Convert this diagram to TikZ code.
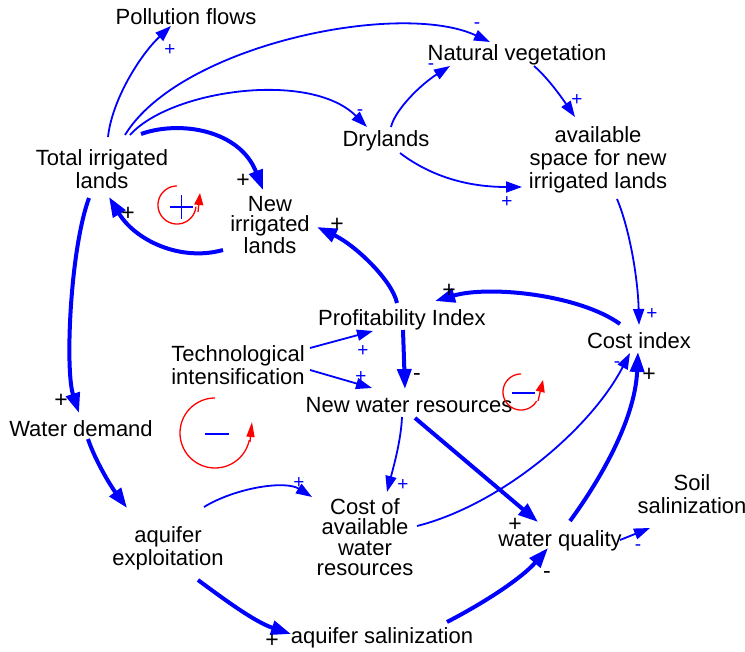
\documentclass[tikz,border=0pt]{standalone}
\usepackage{fontspec}
\setmainfont{Liberation Sans}
\usetikzlibrary{arrows.meta,calc}
\begin{document}
\begin{tikzpicture}[x=1pt,y=-1pt,
 lab/.style={font=\fontsize{22}{23}\selectfont, align=center, inner sep=0pt},
 labt/.style={font=\fontsize{22}{20.5}\selectfont, align=center, inner sep=0pt},
 sgb/.style={text=blue, font=\fontsize{19}{19}\selectfont, inner sep=0pt},
 sgk/.style={text=black, font=\fontsize{23}{23}\selectfont, inner sep=0pt},
 lk/.style={blue, line width=1.8pt, -{Triangle[length=16pt,width=11pt]}},
 lkb/.style={blue, line width=4pt, -{Triangle[length=20pt,width=14pt]}},
 loopc/.style={red, line width=1.3pt},
 loopsg/.style={blue, line width=1.3pt},
]
\useasboundingbox (0,0) rectangle (745,652);

% variables
\node[lab] (poll) at (186,17) {Pollution flows};
\node[lab] (nat) at (517,55) {Natural vegetation};
\node[lab] (dry) at (386,141) {Drylands};
\node[lab] (avail) at (598,160) {available\\space for new\\irrigated lands};
\node[lab] (tot) at (102,169) {Total irrigated\\lands};
\node[labt] (newirr) at (270,225) {New\\irrigated\\lands};
\node[lab] (prof) at (402,320) {Profitability Index};
\node[lab] (tech) at (238,365) {Technological\\intensification};
\node[lab] (cost) at (639,341) {Cost index};
\node[lab] (newwat) at (409,405) {New water resources};
\node[lab] (wd) at (81,429) {Water demand};
\node[lab] (aqex) at (168,548) {aquifer\\exploitation};
\node[labt] (coav) at (365,537) {Cost of\\available\\water\\resources};
\node[lab] (wq) at (560,541) {water quality};
\node[lab] (soil) at (692,494) {Soil\\salinization};
\node[lab] (aqsal) at (382,638) {aquifer salinization};

% links
\draw[lk] ($(tot)+(6,-32)$) .. controls (112,100) and (140,55) .. ($(poll)+(-15,9)$);
\draw[lk] ($(tot)+(23,-34)$) .. controls (180,45) and (400,0) .. ($(nat)+(-27,-13)$);
\draw[lk] ($(tot)+(28,-34)$) .. controls (170,90) and (310,70) .. ($(dry)+(-19,-14)$);
\draw[lkb] ($(tot)+(39,-35)$) .. controls (180,120) and (240,130) .. ($(newirr)+(-7,-35)$);
\draw[lkb] ($(newirr)+(-47,25)$) .. controls (180,262) and (135,240) .. ($(tot)+(7,28)$);
\draw[lk] ($(dry)+(5,-14)$) .. controls (395,110) and (420,85) .. ($(nat)+(-67,11)$);
\draw[lk] ($(dry)+(14,12)$) .. controls (425,172) and (460,187) .. ($(avail)+(-76,27)$);
\draw[lk] ($(nat)+(17,11)$) .. controls (548,78) and (562,98) .. ($(avail)+(-23,-43)$);
\draw[lk] ($(avail)+(19,39)$) .. controls (630,230) and (638,280) .. ($(cost)+(0,-16)$);
\draw[lkb] ($(cost)+(-19,-17)$) .. controls (580,295) and (490,285) .. ($(prof)+(33,-19)$);
\draw[lkb] ($(prof)+(-5,-17)$) .. controls (392,280) and (355,245) .. ($(newirr)+(47,2)$);
\draw[lkb] ($(prof)+(1,10)$) -- ($(newwat)+(-4,-16)$);
\draw[lk] ($(tech)+(72,-17)$) -- ($(prof)+(-29,11)$);
\draw[lk] ($(tech)+(72,5)$) -- ($(newwat)+(-37,-17)$);
\draw[lkb] ($(wd)+(7,10)$) .. controls (95,460) and (110,485) .. ($(aqex)+(-41,-40)$);
\draw[lkb] ($(tot)+(-13,29)$) .. controls (70,250) and (65,370) .. ($(wd)+(-2,-16)$);
\draw[lk] ($(aqex)+(36,-41)$) .. controls (235,488) and (285,480) .. ($(coav)+(-53,-40)$);
\draw[lkb] ($(aqex)+(30,32)$) .. controls (225,600) and (255,622) .. ($(aqsal)+(-91,-4)$);
\draw[lk] ($(newwat)+(-7,12)$) .. controls (401,440) and (394,465) .. ($(coav)+(22,-45)$);
\draw[lkb] ($(newwat)+(6,13)$) -- ($(wq)+(-22,-19)$);
\draw[lk] ($(coav)+(52,-11)$) .. controls (500,505) and (590,430) .. ($(cost)+(-9,12)$);
\draw[lkb] ($(wq)+(10,-20)$) .. controls (600,480) and (635,420) .. ($(cost)+(-1,11)$);
\draw[lk] ($(wq)+(60,-1)$) -- ($(soil)+(-42,34)$);
\draw[lkb] ($(aqsal)+(65,-16)$) .. controls (480,605) and (520,580) .. ($(wq)+(-12,7)$);

% polarity signs
\node[sgb] (s1) at (170,50) {+};
\node[sgb] (s2) at (477,26) {-};
\node[sgb] (s3) at (360,113) {-};
\node[sgk] (s4) at (243,181) {+};
\node[sgk] (s5) at (128,214) {+};
\node[sgb] (s6) at (431,67) {-};
\node[sgb] (s7) at (507,202) {+};
\node[sgb] (s8) at (577,100) {+};
\node[sgb] (s9) at (652,314) {+};
\node[sgk] (s10) at (449,291) {+};
\node[sgk] (s11) at (337,225) {+};
\node[sgk] (s12) at (417,377) {-};
\node[sgb] (s13) at (363,351) {+};
\node[sgb] (s14) at (361,377) {+};
\node[sgk] (s16) at (61,401) {+};
\node[sgb] (s17) at (299,483) {+};
\node[sgk] (s18) at (272,641) {+};
\node[sgb] (s19) at (403,485) {+};
\node[sgk] (s20) at (515,525) {+};
\node[sgb] (s21) at (617,365) {-};
\node[sgk] (s22) at (649,375) {+};
\node[sgb] (s23) at (638,548) {-};
\node[sgk] (s24) at (547,575) {-};

% loop markers
\draw[loopc] plot[domain=90:355, samples=60] ({177+19*cos(\x)},{205-19*sin(\x)});
\draw[loopc, -{Triangle[length=12pt,width=9pt]}] (198,212) -- (200,193);
\draw[loopsg] (170,207) -- (193,207) (181.5,195) -- (181.5,219);

\draw[loopc] plot[domain=90:348, samples=80] ({215+35*cos(\x)},{433-35*sin(\x)});
\draw[loopc, -{Triangle[length=15pt,width=8pt]}] (250,442) -- (252,422);
\draw[loopsg] (205,434) -- (229,434);

\draw[loopc] plot[domain=90:330, samples=60] ({521+18*cos(\x)},{392-18*sin(\x)});
\draw[loopc, -{Triangle[length=12pt,width=9pt]}] (538,401) -- (543,380);
\draw[loopsg] (512,393) -- (535,393);
\end{tikzpicture}
\end{document}
